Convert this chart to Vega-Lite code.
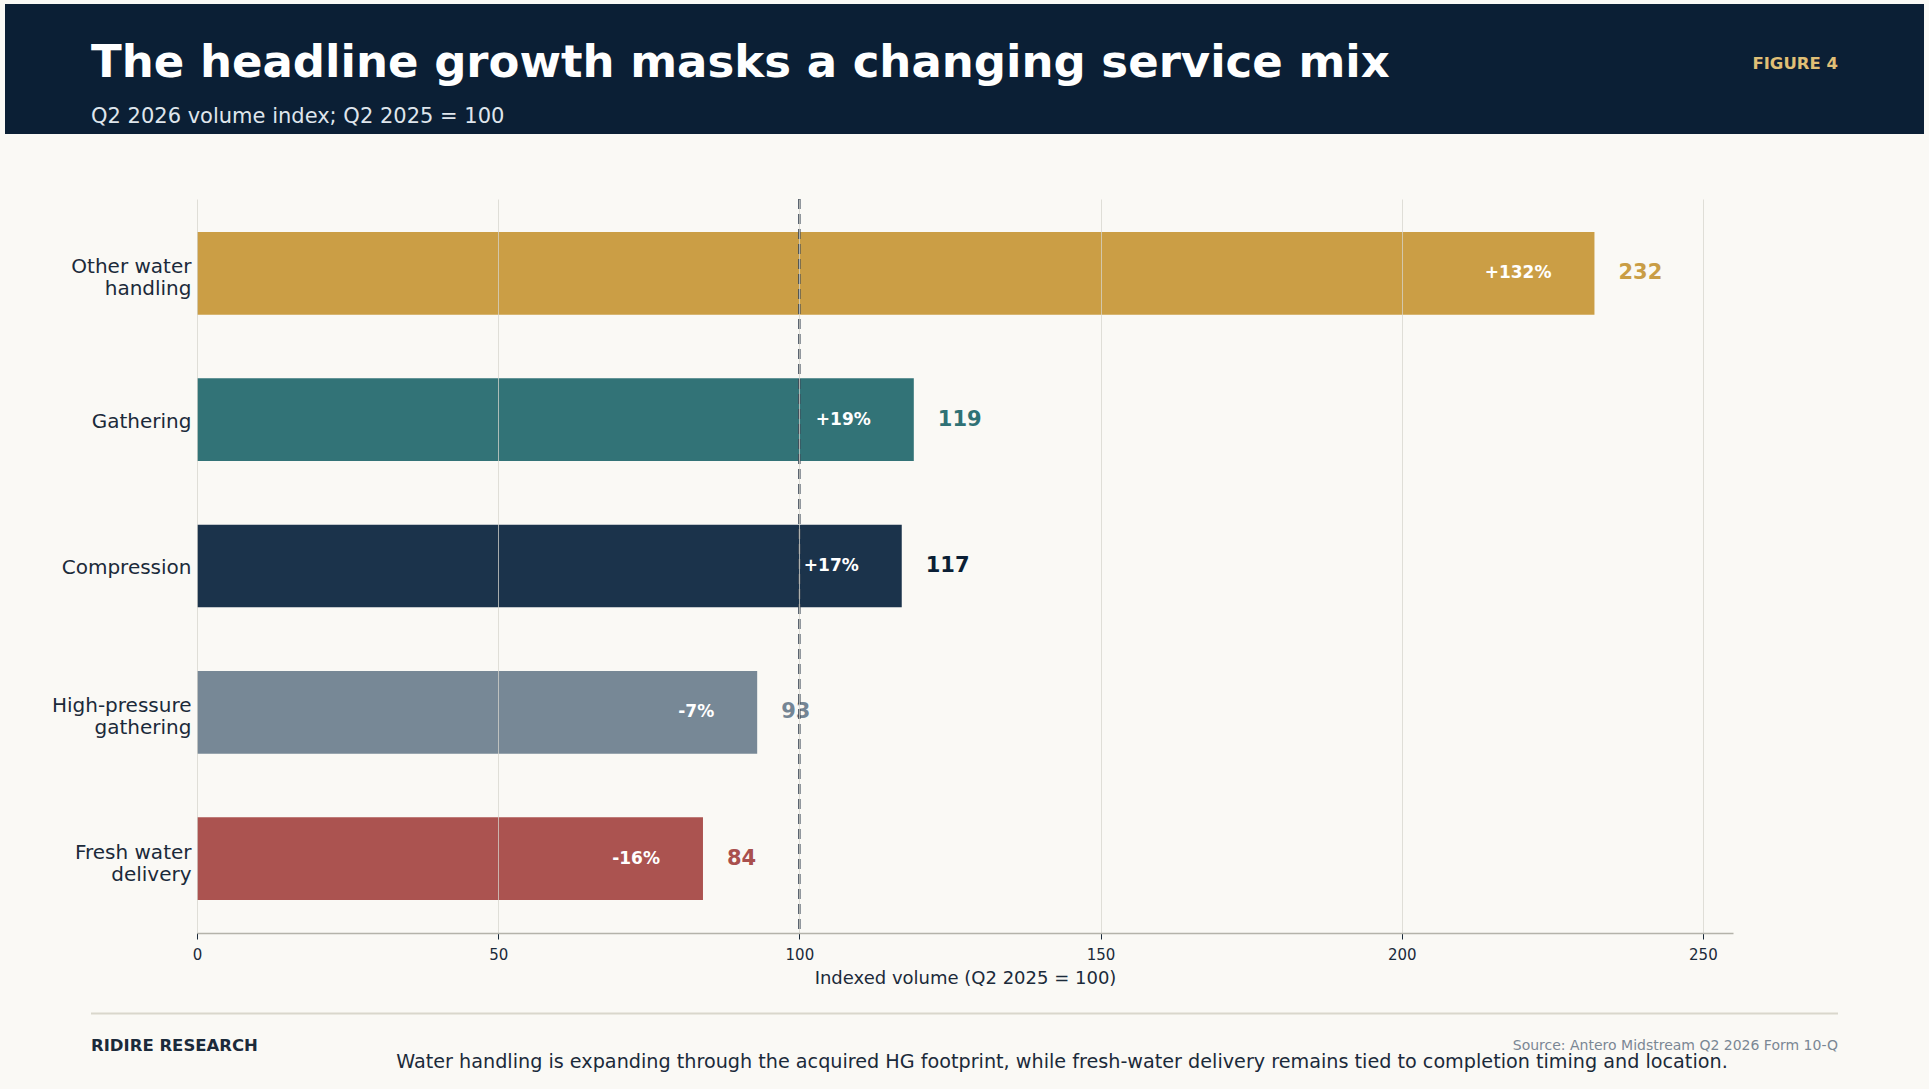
{
  "$schema": "https://vega.github.io/schema/vega-lite/v6.json",
  "background": "#faf9f5",
  "padding": {"left": 5, "right": 5, "top": 4, "bottom": 0},
  "config": {
    "font": "DejaVu Sans",
    "view": {"stroke": null}
  },
  "spacing": 63,
  "vconcat": [
    {
      "width": 1919,
      "height": 130,
      "view": {"fill": "#0b1f35", "stroke": null},
      "title": {
        "text": "The headline growth masks a changing service mix",
        "subtitle": "Q2 2026 volume index; Q2 2025 = 100",
        "anchor": "start",
        "frame": "group",
        "orient": "top",
        "dx": 86,
        "offset": -123,
        "font": "DejaVu Sans",
        "fontSize": 45,
        "fontWeight": "bold",
        "color": "#ffffff",
        "subtitleFont": "DejaVu Sans",
        "subtitleFontSize": 21,
        "subtitleColor": "#dfe5ec",
        "subtitlePadding": 20
      },
      "data": {"values": [{"label": "FIGURE 4"}]},
      "mark": {
        "type": "text",
        "align": "right",
        "baseline": "alphabetic",
        "fontSize": 16.5,
        "fontWeight": "bold",
        "color": "#e0bf76"
      },
      "encoding": {
        "text": {"field": "label"},
        "x": {"value": 1833},
        "y": {"value": 65}
      }
    },
    {
      "spacing": 25,
      "vconcat": [
        {
          "width": 1919,
          "height": 734,
          "data": {
            "values": [
              {"segment": "Other water handling", "index": 232, "change": "+132%"},
              {"segment": "Gathering", "index": 119, "change": "+19%"},
              {"segment": "Compression", "index": 117, "change": "+17%"},
              {"segment": "High-pressure gathering", "index": 93, "change": "-7%"},
              {"segment": "Fresh water delivery", "index": 84, "change": "-16%"}
            ]
          },
          "layer": [
            {
              "mark": {"type": "bar"},
              "encoding": {
                "y": {
                  "field": "segment",
                  "type": "nominal",
                  "sort": null,
                  "scale": {"paddingInner": 0.435, "paddingOuter": 0.225},
                  "axis": {
                    "title": null,
                    "offset": -192,
                    "domain": false,
                    "ticks": false,
                    "labelPadding": 6,
                    "labelFontSize": 20,
                    "labelColor": "#1b2a3a",
                    "labelLineHeight": 22,
                    "labelOffset": {
                      "condition": {"test": "indexof(['Other water handling', 'High-pressure gathering', 'Fresh water delivery'], datum.value) >= 0", "value": -6},
                      "value": 2
                    },
                    "labelExpr": "datum.value == 'Other water handling' ? ['Other water', 'handling'] : datum.value == 'High-pressure gathering' ? ['High-pressure', 'gathering'] : datum.value == 'Fresh water delivery' ? ['Fresh water', 'delivery'] : datum.value"
                  }
                },
                "x": {
                  "field": "index",
                  "type": "quantitative",
                  "scale": {"domain": [0, 255], "range": [192, 1728], "nice": false, "zero": true},
                  "axis": {
                    "title": "Indexed volume (Q2 2025 = 100)",
                    "values": [0, 50, 100, 150, 200, 250],
                    "zindex": 1,
                    "grid": true,
                    "gridColor": "#d6d4cc",
                    "gridOpacity": 0.75,
                    "gridWidth": 1,
                    "domainColor": "#b4b3aa",
                    "domainWidth": 1.5,
                    "tickColor": "#1b2a3a",
                    "tickSize": 6,
                    "tickWidth": 1,
                    "labelFontSize": 15,
                    "labelColor": "#1b2a3a",
                    "labelPadding": 8,
                    "labelFlush": false,
                    "titleFontSize": 18,
                    "titleFontWeight": "normal",
                    "titleColor": "#1b2a3a",
                    "titlePadding": 7
                  }
                },
                "color": {
                  "field": "segment",
                  "type": "nominal",
                  "legend": null,
                  "scale": {
                    "domain": ["Other water handling", "Gathering", "Compression", "High-pressure gathering", "Fresh water delivery"],
                    "range": ["#cb9e45", "#327377", "#1b334b", "#778896", "#ab5350"]
                  }
                }
              }
            },
            {
              "mark": {
                "type": "text",
                "align": "right",
                "baseline": "middle",
                "dx": -43,
                "fontSize": 17,
                "fontWeight": "bold",
                "color": "#ffffff"
              },
              "encoding": {
                "y": {"field": "segment", "type": "nominal", "sort": null},
                "x": {"field": "index", "type": "quantitative"},
                "text": {"field": "change"}
              }
            },
            {
              "mark": {
                "type": "text",
                "align": "left",
                "baseline": "middle",
                "dx": 24,
                "fontSize": 21,
                "fontWeight": "bold"
              },
              "encoding": {
                "y": {"field": "segment", "type": "nominal", "sort": null},
                "x": {"field": "index", "type": "quantitative"},
                "text": {"field": "index", "type": "quantitative"},
                "color": {
                  "field": "segment",
                  "type": "nominal",
                  "legend": null,
                  "scale": {
                    "domain": ["Other water handling", "Gathering", "Compression", "High-pressure gathering", "Fresh water delivery"],
                    "range": ["#c99d45", "#2f7175", "#0b1f35", "#748594", "#a9504d"]
                  }
                }
              }
            },
            {
              "data": {"values": [{"baseline": 100}]},
              "mark": {"type": "rule", "strokeDash": [10, 5], "strokeWidth": 2.4, "color": "#3f4b57"},
              "encoding": {
                "x": {"field": "baseline", "type": "quantitative"}
              }
            }
          ],
          "resolve": {"scale": {"color": "independent"}}
        },
        {
          "width": 1919,
          "height": 80,
          "layer": [
            {
              "data": {"values": [{"part": "divider"}]},
              "mark": {"type": "rule", "color": "#d9d7cc", "strokeWidth": 2},
              "encoding": {
                "x": {"value": 86},
                "x2": {"value": 1833},
                "y": {"value": 1.5}
              }
            },
            {
              "data": {"values": [{"label": "RIDIRE RESEARCH"}]},
              "mark": {"type": "text", "align": "left", "baseline": "alphabetic", "fontSize": 16.5, "fontWeight": "bold", "color": "#1b2a3a"},
              "encoding": {
                "text": {"field": "label"},
                "x": {"value": 86},
                "y": {"value": 38.5}
              }
            },
            {
              "data": {"values": [{"label": "Source: Antero Midstream Q2 2026 Form 10-Q"}]},
              "mark": {"type": "text", "align": "right", "baseline": "alphabetic", "fontSize": 14, "color": "#7a8794"},
              "encoding": {
                "text": {"field": "label"},
                "x": {"value": 1833},
                "y": {"value": 37.5}
              }
            },
            {
              "data": {"values": [{"label": "Water handling is expanding through the acquired HG footprint, while fresh-water delivery remains tied to completion timing and location."}]},
              "mark": {"type": "text", "align": "center", "baseline": "alphabetic", "fontSize": 19.2, "color": "#1b2a3a"},
              "encoding": {
                "text": {"field": "label"},
                "x": {"value": 1057},
                "y": {"value": 55.5}
              }
            }
          ]
        }
      ]
    }
  ]
}
